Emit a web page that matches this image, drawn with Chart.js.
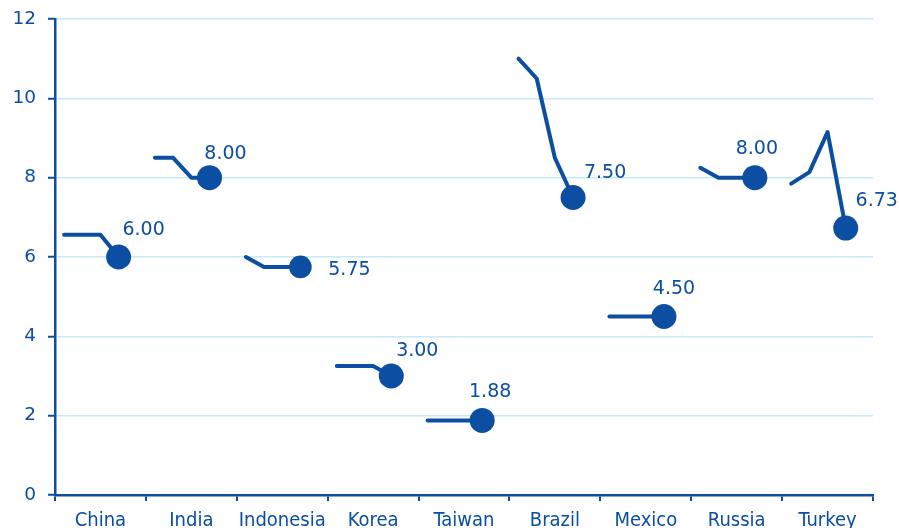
<!DOCTYPE html>
<html>
<head>
<meta charset="utf-8">
<script src="https://cdn.jsdelivr.net/npm/chart.js@4"></script>
<style>
  html, body { margin: 0; padding: 0; background: #fff; }
  #wrap { width: 899px; height: 528px; position: relative; }
</style>
</head>
<body>
<div id="wrap"><canvas id="chart"></canvas></div>
<script>
// policy rate path per country, last value is the current rate
const countries = ['China', 'India', 'Indonesia', 'Korea', 'Taiwan', 'Brazil', 'Mexico', 'Russia', 'Turkey'];
const rates = [
  [6.56, 6.56, 6.56, 6.00],
  [8.50, 8.50, 8.00, 8.00],
  [6.00, 5.75, 5.75, 5.75],
  [3.25, 3.25, 3.25, 3.00],
  [1.88, 1.88, 1.88, 1.88],
  [11.00, 10.50, 8.50, 7.50],
  [4.50, 4.50, 4.50, 4.50],
  [8.25, 8.00, 8.00, 8.00],
  [7.85, 8.14, 9.15, 6.73]
];
const yTicks = [0, 2, 4, 6, 8, 10, 12];

// styling
const BLUE = '#0b4ea2';
const GRID = '#c6eaf8';
const FONT = '"DejaVu Sans", Verdana, sans-serif';
const CONDENSED = '"DejaVu Sans Condensed", "DejaVu Sans", sans-serif';
const SLOTS = 5; // 4 points + one empty slot per country group
const dotSize = [12.5, 12.5, 11.3, 12.5, 12.5, 12.5, 12.5, 12.5, 12.5];
const labelShift = [[25, -27], [16, -24], [49, 3], [26, -25], [8, -28], [32, -24], [10, -27], [2, -29], [31, -27]];

const datasets = rates.map((vals, g) => ({
  data: vals.map((v, j) => ({ x: g * SLOTS + j + 0.5, y: v })),
  borderColor: BLUE,
  backgroundColor: BLUE,
  borderWidth: 4,
  borderCapStyle: 'round',
  borderJoinStyle: 'round',
  tension: 0,
  pointRadius: vals.map((v, j) => j === vals.length - 1 ? dotSize[g] : 0),
  pointHoverRadius: vals.map((v, j) => j === vals.length - 1 ? dotSize[g] : 0),
  pointBorderWidth: 0,
  pointBackgroundColor: BLUE
}));

const valueLabels = {
  id: 'valueLabels',
  afterDatasetsDraw(chart) {
    const ctx = chart.ctx;
    ctx.save();
    ctx.font = '19px ' + FONT;
    ctx.fillStyle = BLUE;
    ctx.textAlign = 'center';
    ctx.textBaseline = 'middle';
    rates.forEach((vals, i) => {
      const pts = chart.getDatasetMeta(i).data;
      const last = pts[pts.length - 1];
      const [dx, dy] = labelShift[i];
      ctx.fillText(vals[vals.length - 1].toFixed(2), last.x + dx, last.y + dy);
    });
    ctx.restore();
  }
};

new Chart(document.getElementById('chart'), {
  type: 'line',
  data: { datasets },
  plugins: [valueLabels],
  options: {
    responsive: true,
    maintainAspectRatio: false,
    animation: false,
    layout: { padding: { top: 0, right: 26, left: 0, bottom: 0 } },
    plugins: { legend: { display: false }, tooltip: { enabled: false } },
    scales: {
      x: {
        type: 'linear',
        min: 0,
        max: countries.length * SLOTS,
        afterFit: s => { s.height = 33; },
        afterBuildTicks: s => {
          const t = [];
          for (let g = 0; g <= countries.length; g++) {
            t.push({ value: g * SLOTS });
            if (g < countries.length) t.push({ value: g * SLOTS + SLOTS / 2 });
          }
          s.ticks = t;
        },
        border: { display: true, color: BLUE, width: 2.5 },
        grid: {
          drawOnChartArea: false,
          tickLength: 6,
          lineWidth: 2,
          color: c => (c.tick && c.tick.value % SLOTS === 0) ? BLUE : 'rgba(0,0,0,0)'
        },
        ticks: {
          autoSkip: false,
          maxRotation: 0,
          padding: 8,
          color: BLUE,
          font: { family: CONDENSED, size: 20 },
          callback: v => (v % SLOTS === SLOTS / 2) ? countries[(v - SLOTS / 2) / SLOTS] : ''
        }
      },
      y: {
        min: 0,
        max: 12,
        afterFit: s => { s.width = 55; s.paddingTop = 19; },
        afterBuildTicks: s => { s.ticks = yTicks.map(v => ({ value: v })); },
        border: { display: true, color: BLUE, width: 2.5 },
        grid: {
          color: GRID,
          lineWidth: 1.5,
          tickColor: BLUE,
          tickLength: 7,
          tickWidth: 2
        },
        ticks: {
          padding: 12,
          color: BLUE,
          font: { family: FONT, size: 18.5 }
        }
      }
    }
  }
});
</script>
</body>
</html>
